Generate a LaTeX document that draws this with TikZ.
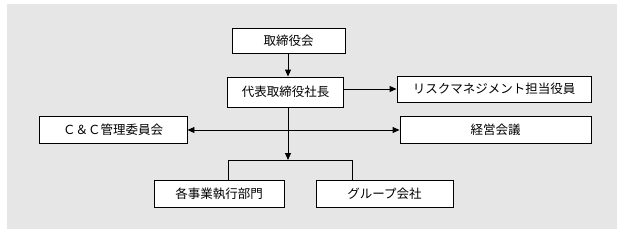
\documentclass[tikz,border=0pt]{standalone}
\usepackage{fontspec}
\setmainfont{Noto Sans CJK JP}
\usetikzlibrary{arrows.meta,positioning}
\definecolor{panel}{RGB}{230,230,230}

\begin{document}
\begin{tikzpicture}[
  x=1pt, y=-1pt,
  box/.style={draw, line width=0.9pt, fill=white, align=center, inner sep=0pt,
    minimum height=27pt, font=\fontsize{12.5}{15}\selectfont},
  arrow/.style={line width=0.9pt, -{Triangle[length=7pt,width=6pt]}},
  link/.style={line width=0.9pt}
]
\useasboundingbox (0,0) rectangle (624,236);
\fill[white] (0,0) rectangle (624,236);
\fill[panel] (7,4) rectangle (617,229);

\node[box, minimum width=113pt, minimum height=25pt] (board) at (288.5,41) {取締役会};
\node[box, minimum width=116pt, minimum height=30pt] (ceo) at (285.5,92) {代表取締役社長};
\node[box, minimum width=194pt, minimum height=26pt] (risk) at (494,89) {リスクマネジメント担当役員};
\node[box, minimum width=148pt] (cc) at (113,130) {Ｃ＆Ｃ管理委員会};
\node[box, minimum width=191pt] (mtg) at (495.5,130) {経営会議};
\node[box, minimum width=130pt] (div) at (219,193.5) {各事業執行部門};
\node[box, minimum width=137pt] (grp) at (384.5,193.5) {グループ会社};

\coordinate (split) at (288,160);
\coordinate (bl) at (228,160);
\coordinate (br) at (352,160);

\draw[arrow] (board.south -| split) -- (ceo.north -| split);
\draw[arrow] (ceo.east |- risk) -- (risk.west);
\draw[arrow] (ceo.south -| split) -- (split);
\draw[arrow, {Triangle[length=7pt,width=6pt]}-{Triangle[length=7pt,width=6pt]}] (cc.east) -- (mtg.west);
\draw[link] (div.north -| bl) |- (br) -- (grp.north -| br);

\end{tikzpicture}
\end{document}
